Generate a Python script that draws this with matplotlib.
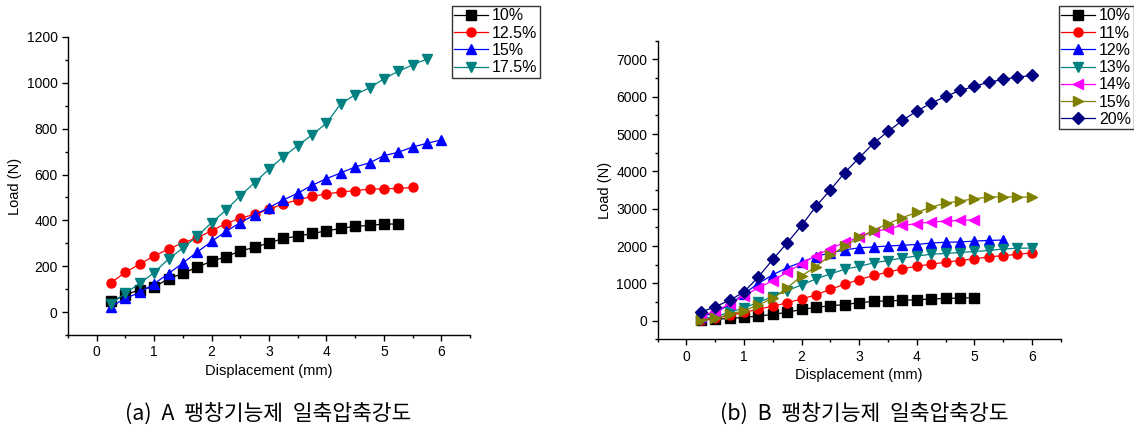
import numpy as np
import matplotlib
matplotlib.use("Agg")
import matplotlib.pyplot as plt
from matplotlib.ticker import MultipleLocator

plt.rcParams['font.family'] = ['Liberation Sans', 'Noto Sans CJK KR', 'DejaVu Sans']

# ---- data : displacement step 0.25 mm ----
step = 0.25

# (a) A
a_labels = ['10%', '12.5%', '15%', '17.5%']
a_10 = [47, 75, 98, 110, 145, 169, 196, 222, 241, 267, 282, 302, 321, 331, 343,
        354, 365, 374, 378, 384, 384]
a_125 = [128, 174, 209, 245, 275, 302, 324, 355, 386, 410, 426, 448, 472, 489, 505,
         515, 524, 530, 536, 538, 539, 544]
a_15 = [24, 60, 86, 124, 168, 214, 262, 308, 352, 390, 424, 456, 489, 519, 553,
        582, 607, 633, 651, 682, 697, 720, 736, 751]
a_175 = [37, 82, 126, 172, 232, 279, 331, 390, 445, 507, 565, 623, 678, 726, 773,
         824, 909, 948, 978, 1017, 1050, 1078, 1104]

# (b) B
b_labels = ['10%', '11%', '12%', '13%', '14%', '15%', '20%']
b_10 = [20, 35, 60, 85, 125, 165, 225, 300, 355, 400, 430, 480, 515, 530, 545,
        560, 580, 595, 605, 615]
b_11 = [18, 63, 140, 220, 310, 385, 480, 580, 690, 840, 975, 1100, 1210, 1300, 1390,
        1460, 1510, 1566, 1611, 1656, 1705, 1745, 1775, 1820]
b_12 = [100, 220, 430, 720, 1000, 1230, 1420, 1566, 1718, 1820, 1897, 1951, 1975, 2000,
        2020, 2040, 2080, 2100, 2110, 2130, 2150, 2160]
b_13 = [45, 107, 224, 340, 492, 644, 805, 957, 1117, 1252, 1377, 1457, 1547, 1610,
        1680, 1730, 1780, 1800, 1826, 1853, 1880, 1920, 1940, 1945]
b_14 = [134, 250, 447, 670, 876, 1073, 1296, 1530, 1745, 1930, 2100, 2235, 2380, 2460,
        2550, 2600, 2640, 2667, 2685, 2703]
b_15 = [27, 63, 170, 270, 420, 600, 880, 1200, 1450, 1750, 2000, 2230, 2420, 2600,
        2760, 2900, 3040, 3150, 3204, 3266, 3311, 3320, 3311, 3311]
b_20 = [224, 375, 545, 770, 1175, 1640, 2085, 2550, 3066, 3504, 3969, 4363, 4756, 5069,
        5364, 5614, 5829, 6007, 6168, 6276, 6392, 6463, 6526, 6571]

colors = ['black', 'red', 'blue', '#008080', '#ff00ff', '#808000', '#000080']
markers = ['s', 'o', '^', 'v', '<', '>', 'D']


def xs(vals):
    return step * np.arange(1, len(vals) + 1)


def style_axes(ax):
    for s in ['top', 'right']:
        ax.spines[s].set_visible(False)
    for s in ['left', 'bottom']:
        ax.spines[s].set_linewidth(1.0)
    ax.tick_params(which='major', direction='out', length=4, width=1.0, labelsize=10)
    ax.tick_params(which='minor', direction='out', length=2.5, width=1.0)
    ax.set_xlim(-0.5, 6.5)
    ax.xaxis.set_major_locator(MultipleLocator(1))
    ax.xaxis.set_minor_locator(MultipleLocator(0.5))
    ax.set_xlabel('Displacement (mm)', fontsize=10.5, labelpad=3)
    ax.set_ylabel('Load (N)', fontsize=10.5, labelpad=3)


def add_legend(handles, x):
    leg = fig.legend(handles=handles, loc='upper left', bbox_to_anchor=(x / 1134, 1 - 6 / 432),
                     fontsize=11.5, frameon=True, fancybox=False, edgecolor='black',
                     handlelength=2.1, handletextpad=0.25, borderpad=0.15, labelspacing=0.14,
                     borderaxespad=0)
    leg.get_frame().set_linewidth(1.0)


fig = plt.figure(figsize=(11.34, 4.32), dpi=100)

# ---- (a) ----
ax1 = fig.add_axes([0.060, 0.2245, 0.3545, 0.690])
handles = []
for i, (vals, lab) in enumerate(zip([a_10, a_125, a_15, a_175], a_labels)):
    h, = ax1.plot(xs(vals), vals, color=colors[i], marker=markers[i],
                  ms=6.5, lw=0.9, label=lab)
    handles.append(h)
style_axes(ax1)
ax1.set_ylim(-100, 1200)
ax1.yaxis.set_major_locator(MultipleLocator(200))
ax1.yaxis.set_minor_locator(MultipleLocator(100))
add_legend(handles, 452)

# ---- (b) ----
ax2 = fig.add_axes([0.580, 0.2146, 0.3553, 0.691])
handles = []
for i, (vals, lab) in enumerate(zip([b_10, b_11, b_12, b_13, b_14, b_15, b_20], b_labels)):
    ms = 5.8 if markers[i] == 'D' else 6.5
    h, = ax2.plot(xs(vals), vals, color=colors[i], marker=markers[i], ms=ms, lw=0.9, label=lab)
    handles.append(h)
style_axes(ax2)
ax2.set_ylim(-500, 7500)
ax2.yaxis.set_major_locator(MultipleLocator(1000))
ax2.yaxis.set_minor_locator(MultipleLocator(500))
add_legend(handles, 1059)

# captions
fig.text(268 / 1134, 1 - 414 / 432, '(a)  A  팽창기능제  일축압축강도', ha='center', va='center',
         fontsize=15.5, family=['Noto Sans CJK KR', 'DejaVu Sans'])
fig.text(864 / 1134, 1 - 414 / 432, '(b)  B  팽창기능제  일축압축강도', ha='center', va='center',
         fontsize=15.5, family=['Noto Sans CJK KR', 'DejaVu Sans'])

fig.savefig('out.png', dpi=100)
